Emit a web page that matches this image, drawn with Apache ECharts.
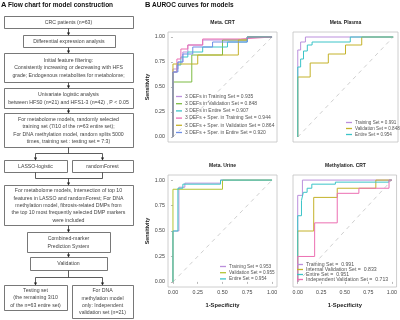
<!DOCTYPE html>
<html>
<head>
<meta charset="utf-8">
<script src="https://cdn.jsdelivr.net/npm/echarts@6/dist/echarts.min.js"></script>
<style>
  html, body { margin: 0; padding: 0; background: #fff; }
  #chart { width: 400px; height: 320px; }
</style>
</head>
<body>
<div id="chart"></div>
<script>
// ---------------------------------------------------------------------------
// ROC data (fpr, tpr), one array per curve
// ---------------------------------------------------------------------------
const crtLabels = [
  "3 DEFs in Training Set = 0.935",
  "3 DEFs in Validation Set = 0.848",
  "3 DEFs in Entire Set = 0.907",
  "3 DEFs + Sper. in Training Set = 0.944",
  "3 DEFs + Sper. in Validation Set = 0.864",
  "3 DEFs + Sper. in Entire Set = 0.920"
];
const crtTrain = [[0,0],[0,0.68],[0.05,0.68],[0.05,0.75],[0.1,0.75],[0.1,0.85],[0.15,0.85],[0.15,0.92],[0.3,0.92],[0.3,0.97],[0.75,0.97],[0.75,1],[1,1]];
const crtValid = [[0,0],[0,0.55],[0.19,0.55],[0.19,0.82],[0.5,0.82],[0.5,0.97],[0.75,0.97],[0.75,1],[1,1]];
const crtEntire = [[0,0],[0,0.65],[0.04,0.65],[0.04,0.72],[0.08,0.72],[0.08,0.8],[0.15,0.8],[0.15,0.85],[0.3,0.85],[0.3,0.9],[0.55,0.9],[0.55,0.95],[0.75,0.95],[0.75,1],[1,1]];
const crtSperTrain = [[0,0],[0,0.65],[0.04,0.65],[0.04,0.78],[0.08,0.78],[0.08,0.88],[0.15,0.88],[0.15,0.92],[0.3,0.92],[0.3,0.98],[0.68,0.98],[0.68,1],[1,1]];
const crtSperValid = [[0,0],[0,0.73],[0.25,0.73],[0.25,0.82],[0.66,0.82],[0.66,0.97],[0.75,0.97],[0.75,1],[1,1]];
const crtSperEntire = [[0,0],[0,0.65],[0.05,0.65],[0.05,0.75],[0.1,0.75],[0.1,0.83],[0.2,0.83],[0.2,0.9],[0.4,0.9],[0.4,0.95],[0.75,0.95],[0.75,1],[1,1]];

const plasmaLabels = ["Training Set = 0.991", "Validation Set = 0.848", "Entire Set = 0.954"];
const plasmaTrain = [[0,0],[0,0.87],[0.03,0.87],[0.03,0.95],[0.08,0.95],[0.08,1],[1,1]];
const plasmaValid = [[0,0],[0,0.6],[0.13,0.6],[0.13,0.74],[0.32,0.74],[0.32,0.83],[0.5,0.83],[0.5,0.92],[0.67,0.92],[0.67,1],[1,1]];
const plasmaEntire = [[0,0],[0,0.7],[0.03,0.7],[0.03,0.78],[0.06,0.78],[0.06,0.86],[0.1,0.86],[0.1,0.92],[0.15,0.92],[0.15,0.95],[0.55,0.95],[0.55,1],[1,1]];

const urineLabels = ["Training Set = 0.953", "Validation Set = 0.955", "Entire Set = 0.954"];
const urineTrain = [[0,0],[0,0.5],[0.06,0.5],[0.06,0.93],[0.12,0.93],[0.12,0.97],[0.48,0.97],[0.48,1],[1,1]];
const urineValid = [[0,0],[0,0.91],[0.5,0.91],[0.5,1],[1,1]];
const urineEntire = [[0,0],[0,0.5],[0.05,0.5],[0.05,0.92],[0.1,0.92],[0.1,0.96],[0.48,0.96],[0.48,1],[1,1]];

const methLabels = ["Training Set =  0.991", "Internal Validation Set =  0.833", "Entire Set =  0.951", "Independent Validation Set =  0.713"];
const methTrain = [[0,0],[0,0.85],[0.05,0.85],[0.05,1],[1,1]];
const methInternal = [[0,0],[0,0.5],[0.17,0.5],[0.17,0.83],[0.42,0.83],[0.42,0.92],[0.83,0.92],[0.83,1],[1,1]];
const methEntire = [[0,0],[0,0.65],[0.04,0.65],[0.04,0.8],[0.06,0.8],[0.06,0.88],[0.1,0.88],[0.1,0.92],[0.15,0.92],[0.15,0.96],[0.4,0.96],[0.4,0.98],[0.97,0.98],[0.97,1],[1,1]];
const methIndep = [[0,0],[0,0.25],[0.18,0.25],[0.18,0.58],[0.42,0.58],[0.42,0.87],[0.65,0.87],[0.65,0.92],[0.97,0.92],[0.97,1],[1,1]];

const tickValues = [0, 0.25, 0.5, 0.75, 1];

// colours of the curves
const C = {
  violet: "#bb8fdc", green: "#7dbb42", cyan: "#3cc4c8",
  pink: "#ec6fb2", olive: "#c4b22a", blue: "#6d8ee6", lime: "#b3c436"
};

const FONT = "'Liberation Sans', Arial, sans-serif";
const TXT = "#444";

const panels = [
  { title: "Meta. CRT", grid: { left: 168, top: 32, width: 109, height: 110 }, yName: true, xName: false,
    legend: { left: 176, top: 94, gap: 2.2, size: 5 },
    curves: [[crtLabels[0], crtTrain, C.violet], [crtLabels[1], crtValid, C.green], [crtLabels[2], crtEntire, C.cyan],
             [crtLabels[3], crtSperTrain, C.pink], [crtLabels[4], crtSperValid, C.olive], [crtLabels[5], crtSperEntire, C.blue]] },
  { title: "Meta. Plasma", grid: { left: 293, top: 32, width: 105, height: 110 }, yName: false, xName: false,
    legend: { left: 346, top: 120, gap: 1, size: 4.6 },
    curves: [[plasmaLabels[0], plasmaTrain, C.violet], [plasmaLabels[1], plasmaValid, C.olive], [plasmaLabels[2], plasmaEntire, C.cyan]] },
  { title: "Meta. Urine", grid: { left: 168, top: 175, width: 109, height: 112 }, yName: true, xName: true,
    legend: { left: 220, top: 264, gap: 1.2, size: 4.7 },
    curves: [[urineLabels[0], urineTrain, C.violet], [urineLabels[1], urineValid, C.lime], [urineLabels[2], urineEntire, C.cyan]] },
  { title: "Methylation. CRT", grid: { left: 293, top: 175, width: 105, height: 112 }, yName: false, xName: true,
    legend: { left: 297, top: 262, gap: 0, size: 5.2 },
    curves: [[methLabels[0], methTrain, C.violet], [methLabels[1], methInternal, C.olive], [methLabels[2], methEntire, C.cyan], [methLabels[3], methIndep, C.pink]] }
];

// ---------------------------------------------------------------------------
// Flow chart (panel A): boxes and connectors
// ---------------------------------------------------------------------------
const flowBoxes = [
  { x: 4, y: 16, w: 129, h: 12, text: "CRC patients (n=63)" },
  { x: 23, y: 35, w: 92, h: 12, text: "Differential expression analysis" },
  { x: 4, y: 53, w: 129, h: 29, text: "Initial feature filtering:\nConsistently increasing or decreasing with HFS\ngrade; Endogenous metabolites for metabolome;" },
  { x: 4, y: 88, w: 129, h: 20, text: "Univariate logistic analysis\nbetween HFS0 (n=21) and HFS1-3 (n=42) , P < 0.05" },
  { x: 4, y: 113, w: 129, h: 34, text: "For metabolome models, randomly selected\ntraining set (7/10 of the n=63 entire set);\nFor DNA methylation model, random splits 5000\ntimes, training set : testing set = 7:3)" },
  { x: 4, y: 160, w: 63, h: 12, text: "LASSO-logistic" },
  { x: 72, y: 160, w: 61, h: 12, text: "randomForest" },
  { x: 4, y: 185, w: 129, h: 40, text: "For metabolome models, Intersection of top 10\nfeatures in LASSO and randomForest; For DNA\nmethylation model, fibrosis-related DMPs from\nthe top 10 most frequently selected DMP markers\nwere included" },
  { x: 27, y: 232, w: 83, h: 20, text: "Combined-marker\nPrediction System" },
  { x: 30, y: 257, w: 77, h: 13, text: "Validation" },
  { x: 4, y: 285, w: 63, h: 25, text: "Testing set\n(the remaining 3/10\nof the n=63 entire set)" },
  { x: 72, y: 285, w: 61, h: 33, text: "For DNA\nmethylation model\nonly: Independent\nvalidation set (n=21)" }
];

function flowGraphics() {
  const els = [];
  const stroke = "#555";
  flowBoxes.forEach((b) => {
    els.push({ type: "rect", shape: { x: b.x + 0.5, y: b.y + 0.5, width: b.w, height: b.h },
      style: { fill: "#fff", stroke: stroke, lineWidth: 0.8 } });
    els.push({ type: "text", x: b.x + b.w / 2, y: b.y + b.h / 2 + 0.5,
      style: { text: b.text, align: "center", verticalAlign: "middle", fontSize: 5.2, lineHeight: 7.3,
        fontFamily: FONT, fill: TXT } });
  });
  const seg = (x1, y1, x2, y2) => els.push({ type: "line", shape: { x1, y1, x2, y2 },
    style: { stroke: "#333", lineWidth: 0.8 } });
  const arrow = (x, y1, y2) => {
    seg(x, y1, x, y2 - 2.5);
    els.push({ type: "polygon", shape: { points: [[x - 1.6, y2 - 3], [x + 1.6, y2 - 3], [x, y2]] },
      style: { fill: "#222" } });
  };
  const cx = 68.5;
  arrow(cx, 28.5, 35.5);
  arrow(cx, 47.5, 53.5);
  arrow(cx, 82.5, 88.5);
  arrow(cx, 108.5, 113.5);
  seg(cx, 147.5, cx, 153.5);
  seg(35.5, 153.5, 102.5, 153.5);
  arrow(35.5, 153.5, 160.5);
  arrow(102.5, 153.5, 160.5);
  seg(35.5, 172.5, 35.5, 178.5);
  seg(102.5, 172.5, 102.5, 178.5);
  seg(35.5, 178.5, 102.5, 178.5);
  arrow(cx, 178.5, 185.5);
  arrow(cx, 225.5, 232.5);
  arrow(cx, 252.5, 257.5);
  seg(cx, 270.5, cx, 277.5);
  seg(35.5, 277.5, 102.5, 277.5);
  arrow(35.5, 277.5, 285.5);
  arrow(102.5, 277.5, 285.5);
  return els;
}

// ---------------------------------------------------------------------------
// Build option
// ---------------------------------------------------------------------------
const chart = echarts.init(document.getElementById("chart"), null, { renderer: "canvas" });

const grids = [], xAxes = [], yAxes = [], series = [], legends = [];
const headers = [
  { type: "text", x: 1, y: 1, style: { text: "A", fontSize: 7.5, fontWeight: "bold", fontFamily: FONT, fill: "#111" } },
  { type: "text", x: 8, y: 1.5, style: { text: "Flow chart for model construction", fontSize: 6.5, fontWeight: "bold", fontFamily: FONT, fill: "#111" } },
  { type: "text", x: 145, y: 1, style: { text: "B", fontSize: 7.5, fontWeight: "bold", fontFamily: FONT, fill: "#111" } },
  { type: "text", x: 152, y: 1.5, style: { text: "AUROC curves for models", fontSize: 6.5, fontWeight: "bold", fontFamily: FONT, fill: "#111" } }
];

panels.forEach((p, i) => {
  grids.push(Object.assign({ show: true, borderColor: "#c2c2c2", borderWidth: 0.8, backgroundColor: "#fff" }, p.grid));
  headers.push({ type: "text", x: p.grid.left + p.grid.width / 2, y: p.grid.top - 9,
    style: { text: p.title, align: "center", verticalAlign: "middle", fontSize: 5, fontWeight: "bold", fontFamily: FONT, fill: "#222" } });

  xAxes.push({
    gridIndex: i, type: "value", min: -0.05, max: 1.05,
    name: p.xName ? "1-Specificity" : "", nameLocation: "middle", nameGap: 15,
    nameTextStyle: { fontSize: 5.8, fontWeight: "bold", color: "#222", fontFamily: FONT },
    axisLine: { show: false },
    axisTick: { show: p.xName, length: 2, customValues: tickValues, lineStyle: { color: "#888", width: 0.6 } },
    axisLabel: { show: p.xName, customValues: tickValues, fontSize: 5.3, color: TXT, margin: 3, fontFamily: FONT,
      formatter: (v) => v.toFixed(2) },
    splitLine: { show: false }
  });
  yAxes.push({
    gridIndex: i, type: "value", min: -0.05, max: 1.05,
    name: p.yName ? "Sensitivity" : "", nameLocation: "middle", nameGap: 18, nameRotate: 90,
    nameTextStyle: { fontSize: 5.3, fontWeight: "bold", color: "#222", fontFamily: FONT },
    axisLine: { show: false },
    axisTick: { show: p.yName, length: 2, customValues: tickValues, lineStyle: { color: "#888", width: 0.6 } },
    axisLabel: { show: p.yName, customValues: tickValues, fontSize: 5.3, color: TXT, margin: 3, fontFamily: FONT,
      formatter: (v) => v.toFixed(2) },
    splitLine: { show: false }
  });

  // reference diagonal
  series.push({
    type: "line", xAxisIndex: i, yAxisIndex: i, data: [[0, 0], [1, 1]], symbol: "none", silent: true,
    lineStyle: { color: "#c9c9c9", width: 0.9, type: [4, 4] }, z: 1
  });

  // unique internal names (zero width suffix), shown without the suffix
  const suffix = "\u200b".repeat(i);
  p.curves.forEach(([name, data, color]) => {
    series.push({
      name: name + suffix, type: "line", xAxisIndex: i, yAxisIndex: i, data: data,
      symbol: "none", lineStyle: { color: color, width: 1 }, itemStyle: { color: color }, z: 2
    });
  });

  legends.push({
    data: p.curves.map((c) => c[0] + suffix), orient: "vertical", left: p.legend.left, top: p.legend.top,
    icon: "rect", itemWidth: 6, itemHeight: 1.3, itemGap: p.legend.gap, padding: 0, selectedMode: false,
    textStyle: { fontSize: p.legend.size, color: "#555", fontFamily: FONT, padding: [0, 0, 0, -2] },
    formatter: (n) => n.replace(/\u200b/g, "")
  });
});

chart.setOption({
  animation: false,
  backgroundColor: "#fff",
  grid: grids,
  xAxis: xAxes,
  yAxis: yAxes,
  legend: legends,
  series: series,
  graphic: flowGraphics().concat(headers)
});
</script>
</body>
</html>
